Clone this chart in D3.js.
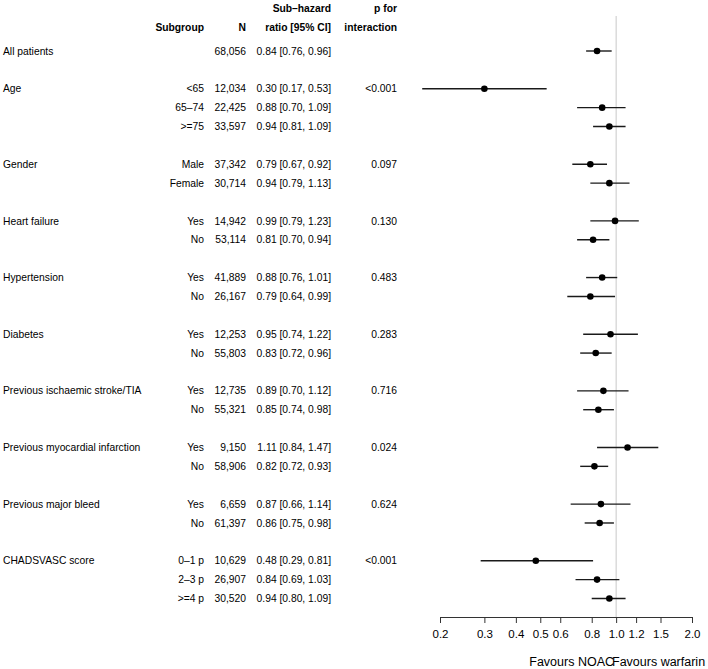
<!DOCTYPE html>
<html><head><meta charset="utf-8">
<script src="https://cdn.jsdelivr.net/npm/d3@7/dist/d3.min.js"></script>
<style>body{margin:0;background:#fff}svg{display:block}text{font-family:"Liberation Sans",Arial,Helvetica,sans-serif;fill:#000}</style>
</head><body><svg id="c" width="708" height="669"></svg>
<script>
// rows: group label, subgroup, N, HR, lower, upper, p-interaction (null rows = blank spacer)
const groups   = ["All patients","","Age","","","","Gender","","","Heart failure","","","Hypertension","","","Diabetes","","","Previous ischaemic stroke/TIA","","","Previous myocardial infarction","","","Previous major bleed","","","CHADSVASC score","",""];
const subgroups= ["","","<65","65\u201374",">=75","","Male","Female","","Yes","No","","Yes","No","","Yes","No","","Yes","No","","Yes","No","","Yes","No","","0\u20131 p","2\u20133 p",">=4 p"];
const nValues  = ["68,056","","12,034","22,425","33,597","","37,342","30,714","","14,942","53,114","","41,889","26,167","","12,253","55,803","","12,735","55,321","","9,150","58,906","","6,659","61,397","","10,629","26,907","30,520"];
const hr       = [0.84,null,0.30,0.88,0.94,null,0.79,0.94,null,0.99,0.81,null,0.88,0.79,null,0.95,0.83,null,0.89,0.85,null,1.11,0.82,null,0.87,0.86,null,0.48,0.84,0.94];
const lower    = [0.76,null,0.17,0.70,0.81,null,0.67,0.79,null,0.79,0.70,null,0.76,0.64,null,0.74,0.72,null,0.70,0.74,null,0.84,0.72,null,0.66,0.75,null,0.29,0.69,0.80];
const upper    = [0.96,null,0.53,1.09,1.09,null,0.92,1.13,null,1.23,0.94,null,1.01,0.99,null,1.22,0.96,null,1.12,0.98,null,1.47,0.93,null,1.14,0.98,null,0.81,1.03,1.09];
const pInter   = ["","","<0.001","","","","0.097","","","0.130","","","0.483","","","0.283","","","0.716","","","0.024","","","0.624","","","<0.001","",""];
const ticks    = [0.2,0.3,0.4,0.5,0.6,0.8,1.0,1.2,1.5,2.0];
const headers1 = ["Sub\u2013hazard","p for"];
const headers2 = ["Subgroup","N","ratio [95% CI]","interaction"];

const svg = d3.select("#c");
const fs = 10.3;
const x = d3.scaleLog().domain([0.2,2.0]).range([440,692]);
const y = d3.scaleLinear().domain([0,29]).range([51,598.5]);
const fmt2 = d => d.toFixed(2);

// header
const hdr = svg.append("g").attr("font-weight","bold").style("font-size",fs+"px").attr("text-anchor","end");
[[331,headers1[0]],[397,headers1[1]]].forEach(([xx,t])=>hdr.append("text").attr("x",xx).attr("y",12).text(t));
[[204,headers2[0]],[246,headers2[1]],[331,headers2[2]],[397,headers2[3]]].forEach(([xx,t])=>hdr.append("text").attr("x",xx).attr("y",31).text(t));

// reference line
svg.append("line").attr("x1",x(1)).attr("x2",x(1)).attr("y1",16).attr("y2",617)
  .attr("stroke","#c8c8c8").attr("stroke-width",1);

const rows = svg.append("g").style("font-size",fs+"px");
groups.forEach((g,i)=>{
  const yy = y(i)+3.6;
  if(g) rows.append("text").attr("x",3).attr("y",yy).text(g);
  if(subgroups[i]) rows.append("text").attr("x",204).attr("y",yy).attr("text-anchor","end").text(subgroups[i]);
  if(nValues[i]) rows.append("text").attr("x",246).attr("y",yy).attr("text-anchor","end").text(nValues[i]);
  if(hr[i]!=null) rows.append("text").attr("x",331).attr("y",yy).attr("text-anchor","end")
     .text(`${fmt2(hr[i])} [${fmt2(lower[i])}, ${fmt2(upper[i])}]`);
  if(pInter[i]) rows.append("text").attr("x",397).attr("y",yy).attr("text-anchor","end").text(pInter[i]);
});

// CIs and points
const idx = d3.range(hr.length).filter(i=>hr[i]!=null);
svg.append("g").selectAll("line").data(idx).join("line")
  .attr("x1",i=>x(lower[i])).attr("x2",i=>x(upper[i]))
  .attr("y1",i=>y(i)).attr("y2",i=>y(i))
  .attr("stroke","#1a1a1a").attr("stroke-width",1.4);
svg.append("g").selectAll("circle").data(idx).join("circle")
  .attr("cx",i=>x(hr[i])).attr("cy",i=>y(i)).attr("r",3.3).attr("fill","#000");

// axis
const ax = svg.append("g").attr("transform","translate(0,617)")
  .call(d3.axisBottom(x).tickValues(ticks).tickFormat(d3.format(".1f")).tickSize(6).tickSizeOuter(0));
ax.select(".domain").attr("stroke","#333");
ax.selectAll(".tick line").attr("stroke","#333");
ax.selectAll(".tick text").style("font-size","11.5px").style("font-family",'"Liberation Sans",Arial,sans-serif').attr("dy","1.0em");

svg.append("text").attr("x",614).attr("y",666).attr("text-anchor","end").style("font-size","12.5px").text("Favours NOAC");
svg.append("text").attr("x",612).attr("y",666).attr("text-anchor","start").style("font-size","12.5px").text("Favours warfarin");
</script></body></html>
